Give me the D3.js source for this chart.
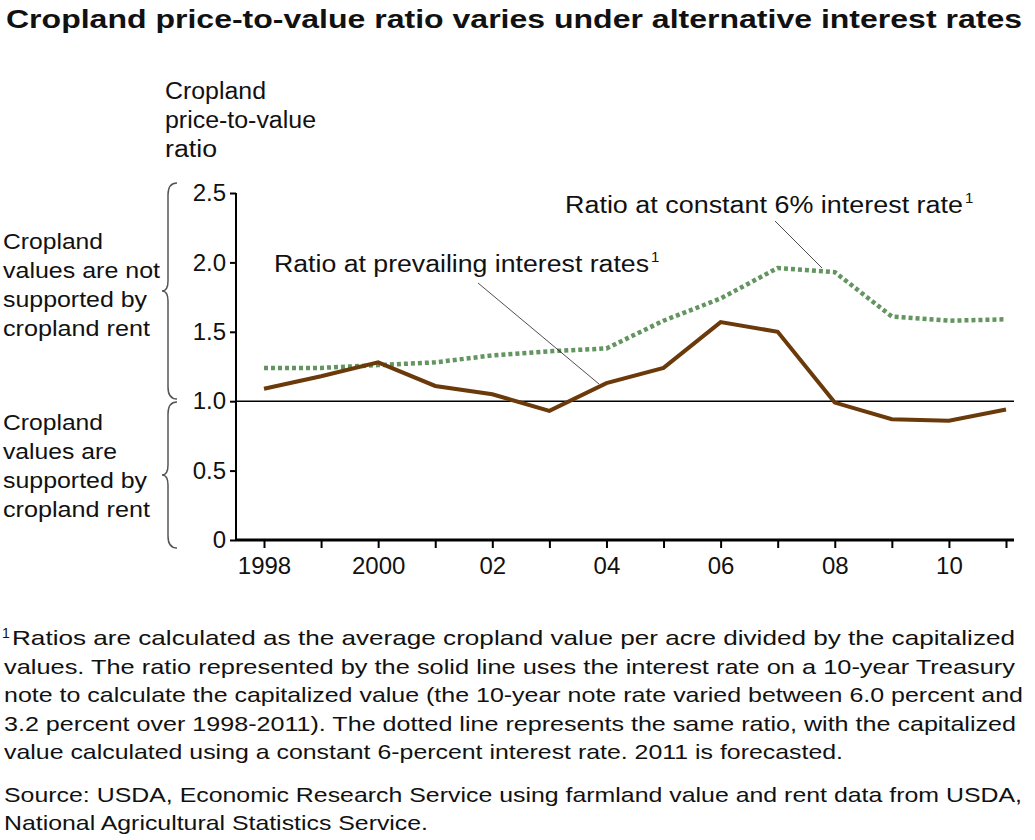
<!DOCTYPE html>
<html><head><meta charset="utf-8">
<script src="https://cdn.jsdelivr.net/npm/d3@7"></script>
<style>body{margin:0;background:#fff}text{font-family:"Liberation Sans",Arial,sans-serif;fill:#111}</style>
</head><body><svg id="c" width="1035" height="840"></svg>
<script>
const years = d3.range(1998, 2012)
const prevailing = [1.09, 1.18, 1.28, 1.11, 1.05, 0.93, 1.13, 1.24, 1.57, 1.50, 0.99, 0.87, 0.86, 0.94]
const constant6 = [1.24, 1.24, 1.26, 1.28, 1.33, 1.36, 1.38, 1.58, 1.74, 1.96, 1.93, 1.61, 1.58, 1.59]
const yTicks = [0, 0.5, 1, 1.5, 2, 2.5]
const xLabels = {1998: "1998", 2000: "2000", 2002: "02", 2004: "04", 2006: "06", 2008: "08", 2010: "10"}

const svg = d3.select("#c")
const x = d3.scaleLinear().domain([1998, 2011]).range([264, 1006])
const y = d3.scaleLinear().domain([0, 2.5]).range([540, 193])

// text with a fixed rendered width
function txt(xp, yp, t, size, w) {
  const e = svg.append("text").attr("x", xp).attr("y", yp).style("font-size", size + "px").text(t)
  if (w) e.attr("textLength", w).attr("lengthAdjust", "spacingAndGlyphs")
  return e
}

txt(6, 28, "Cropland price-to-value ratio varies under alternative interest rates", 25, 1016).style("font-weight", "bold")

// y axis title
;[["Cropland", 101], ["price-to-value", 151], ["ratio", 52]].forEach((t, i) => txt(165, 99 + i * 29, t[0], 23, t[1]))

const yAxis = svg.append("g").attr("transform", "translate(236,0)")
  .call(d3.axisLeft(y).tickValues(yTicks).tickSize(6).tickFormat(d => d === 0 ? "0" : d3.format(".1f")(d)))
yAxis.select(".domain").attr("d", "M0,193V540").attr("stroke-width", 2)
yAxis.selectAll("text").style("font-size", "24px").attr("x", -10).attr("fill", "#111")
yAxis.selectAll("line").attr("stroke-width", 2)

const xAxis = svg.append("g").attr("transform", "translate(0,540)")
  .call(d3.axisBottom(x).tickValues(years).tickSize(8).tickFormat(d => xLabels[d] || ""))
xAxis.select(".domain").attr("d", "M236,0H1014").attr("stroke-width", 3)
xAxis.selectAll("text").style("font-size", "24px").attr("y", 17).attr("fill", "#111")
xAxis.selectAll("line").attr("stroke-width", 2)

svg.append("line").attr("x1", 236).attr("x2", 1014).attr("y1", y(1)).attr("y2", y(1)).attr("stroke", "#000").attr("stroke-width", 1.5)

const line = d3.line().x((d, i) => x(years[i])).y(d => y(d))
svg.append("path").datum(constant6).attr("d", line).attr("fill", "none")
  .attr("stroke", "#62955f").attr("stroke-width", 4.5).attr("stroke-dasharray", "4,3")
svg.append("path").datum(prevailing).attr("d", line).attr("fill", "none")
  .attr("stroke", "#6b3a0a").attr("stroke-width", 4)

function label(xp, yp, t, w) {
  txt(xp, yp, t, 23, w)
  txt(xp + w + 2, yp - 10, "1", 15)
}
label(274, 272, "Ratio at prevailing interest rates", 375)
label(565, 213, "Ratio at constant 6% interest rate", 398)
svg.append("line").attr("x1", 478).attr("y1", 283).attr("x2", 599).attr("y2", 384).attr("stroke", "#000").attr("stroke-width", 0.7)
svg.append("line").attr("x1", 775).attr("y1", 221).attr("x2", 822).attr("y2", 268).attr("stroke", "#000").attr("stroke-width", 0.7)

function brace(top, bot) {
  const m = (top + bot) / 2, xr = 177, xl = 168
  return `M${xr},${top} Q${xl},${top} ${xl},${top + 12} L${xl},${m - 10} Q${xl},${m} ${xl - 6},${m} Q${xl},${m} ${xl},${m + 10} L${xl},${bot - 12} Q${xl},${bot} ${xr},${bot}`
}
svg.append("path").attr("d", brace(183, 399)).attr("fill", "none").attr("stroke", "#555").attr("stroke-width", 1.5)
svg.append("path").attr("d", brace(402, 548)).attr("fill", "none").attr("stroke", "#555").attr("stroke-width", 1.5)
;[["Cropland", 100], ["values are not", 157], ["supported by", 144], ["cropland rent", 147]].forEach((t, i) => txt(3, 249 + i * 29, t[0], 22, t[1]))
;[["Cropland", 100], ["values are", 114], ["supported by", 144], ["cropland rent", 147]].forEach((t, i) => txt(3, 430 + i * 29, t[0], 22, t[1]))

const notes = [
  ["Ratios are calculated as the average cropland value per acre divided by the capitalized", 1003],
  ["values. The ratio represented by the solid line uses the interest rate on a 10-year Treasury", 1011],
  ["note to calculate the capitalized value (the 10-year note rate varied between 6.0 percent and", 1019],
  ["3.2 percent over 1998-2011). The dotted line represents the same ratio, with the capitalized", 1012],
  ["value calculated using a constant 6-percent interest rate. 2011 is forecasted.", 839]
]
txt(2, 638, "1", 14)
notes.forEach((t, i) => txt(i === 0 ? 12 : 4, 645 + i * 28.5, t[0], 21, t[1]))
;[["Source: USDA, Economic Research Service using farmland value and rent data from USDA,", 1018],
  ["National Agricultural Statistics Service.", 424]].forEach((t, i) => txt(4, 802 + i * 28, t[0], 21, t[1]))
</script></body></html>
